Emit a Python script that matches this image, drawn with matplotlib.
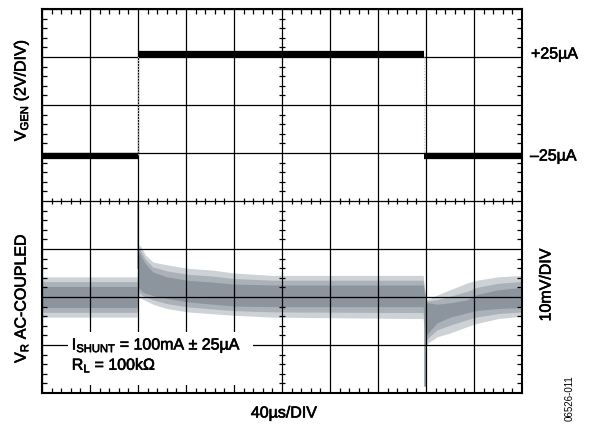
import matplotlib.pyplot as plt
import matplotlib.patheffects as pe
import numpy as np
from matplotlib.patches import Rectangle
from matplotlib.ticker import MultipleLocator

plt.rcParams.update({
    "font.family": ["Liberation Sans", "DejaVu Sans"],
    "mathtext.fontset": "custom",
    "mathtext.rm": "Liberation Sans",
    "font.size": 11.5,
})

W, H = 589, 426
CORE, MID, LIGHT = "#8c949d", "#aab1b8", "#cdd2d7"
# slightly heavier than regular, closer to a medium weight
MEDIUM = [pe.withStroke(linewidth=0.45, foreground="black")]

# Screen is 10 x 8 divisions; all traces are in division units
# V_GEN square wave (top half)
gen_t = [0.0, 2.0, 2.0, 7.96, 7.96, 10.0]
gen_div = [4.94, 4.94, 7.06, 7.06, 4.94, 4.94]

# V_R AC-coupled noise envelope (bottom half, baseline at 2 div)
vr_t = [0.0, 1.98, 2.02, 2.08, 2.15, 2.31, 2.6, 3.02, 3.56, 4.0, 4.8,
        7.94, 8.0, 8.04, 8.23, 8.5, 8.85, 9.06, 9.5, 10.0]
vr_light_hi = [2.42, 2.42, 3.10, 3.02, 2.88, 2.73, 2.67, 2.60, 2.56, 2.50, 2.45,
               2.45, 1.95, 1.95, 2.04, 2.15, 2.29, 2.35, 2.42, 2.45]
vr_core_hi = [2.22, 2.22, 2.95, 2.82, 2.70, 2.52, 2.42, 2.35, 2.31, 2.27, 2.25,
              2.25, 1.88, 1.88, 1.85, 1.88, 1.94, 2.05, 2.15, 2.20]
vr_core_lo = [1.78, 1.78, 2.20, 2.12, 2.08, 2.03, 1.97, 1.90, 1.85, 1.81, 1.80,
              1.80, 1.20, 1.25, 1.46, 1.58, 1.67, 1.72, 1.76, 1.78]
vr_light_lo = [1.58, 1.58, 2.00, 1.96, 1.93, 1.85, 1.76, 1.69, 1.65, 1.62, 1.58,
               1.55, 0.95, 1.04, 1.17, 1.25, 1.38, 1.45, 1.55, 1.60]

# edge spikes: (time, from, to)
rise_spike = (2.0, 2.6, 4.0)
fall_spike = (7.98, 1.9, 0.17)

fig = plt.figure(figsize=(W / 100, H / 100), dpi=100)
ax = fig.add_axes([42 / W, 33 / H, 480 / W, 384 / H])
ax.set_xlim(0, 10)
ax.set_ylim(0, 8)

# noise bands
vr_mid_hi = [(a + b) / 2 for a, b in zip(vr_light_hi, vr_core_hi)]
vr_mid_lo = [(a + b) / 2 for a, b in zip(vr_light_lo, vr_core_lo)]
ax.fill_between(vr_t, vr_light_lo, vr_light_hi, color=LIGHT, lw=0, zorder=1)
ax.fill_between(vr_t, vr_mid_lo, vr_mid_hi, color=MID, lw=0, zorder=1.1)
ax.fill_between(vr_t, vr_core_lo, vr_core_hi, color=CORE, lw=0, zorder=1.2)
ax.plot([rise_spike[0]] * 2, rise_spike[1:], color=MID, lw=1.4, zorder=1.3)
ax.plot([fall_spike[0]] * 2, fall_spike[1:], color=CORE, lw=1.8, zorder=1.3)

# generator trace: thick levels, faint edges
ax.plot(gen_t, gen_div, color="#c8c8c8", lw=0.8, ls=":", zorder=2.6)
for i in range(0, len(gen_t), 2):
    ax.plot(gen_t[i:i + 2], gen_div[i:i + 2], color="black", lw=4.5,
            solid_capstyle="butt", zorder=2.7)

# graticule
ax.set_xticks(range(11))
ax.set_yticks(range(9))
ax.xaxis.set_minor_locator(MultipleLocator(0.2))
ax.yaxis.set_minor_locator(MultipleLocator(0.2))
ax.grid(True, which="major", color="black", lw=0.9)
ax.set_axisbelow(False)
ax.tick_params(which="major", length=0, labelbottom=False, labelleft=False)
ax.tick_params(which="minor", direction="in", length=3.8, width=0.9,
               top=True, right=True, bottom=True, left=True)
for sp in ax.spines.values():
    sp.set_linewidth(1.5)

minor = [v for v in np.arange(0.2, 10, 0.2) if abs(v - round(v)) > 0.01]
minor_y = [v for v in np.arange(0.2, 8, 0.2) if abs(v - round(v)) > 0.01]
ax.plot(minor, [4] * len(minor), ls="", marker="|", ms=4, mew=0.9, color="black", zorder=2.6)
ax.plot([5] * len(minor_y), minor_y, ls="", marker="_", ms=4.5, mew=0.9, color="black", zorder=2.6)

# condition label, blanking the graticule behind it
ax.add_patch(Rectangle((0.54, 0.17), 3.86, 1.1, facecolor="white", edgecolor="none", zorder=2.8))
ax.text(0.62, 1.0, r"I$_{\rm SHUNT}$ = 100mA ± 25µA", va="center", zorder=4, path_effects=MEDIUM)
ax.text(0.62, 0.58, r"R$_{\rm L}$ = 100kΩ", va="center", zorder=4, path_effects=MEDIUM)

def px(x, y):
    return x / W, 1 - y / H

labels = [
    ((21, 90), r"V$_{\rm GEN}$ (2V/DIV)", dict(rotation=90, ha="center")),
    ((21, 298), r"V$_{\rm R}$ AC-COUPLED", dict(rotation=90, ha="center")),
    ((531, 54), "+25µA", dict(ha="left")),
    ((530, 156), "–25µA", dict(ha="left")),
    ((546, 285), "10mV/DIV", dict(rotation=90, ha="center")),
    ((284, 413), "40µs/DIV", dict(ha="center")),
]
for (x, y), s, kw in labels:
    fig.text(*px(x, y), s, va="center", path_effects=MEDIUM, **kw)
fig.text(*px(570, 398), "06526-011", rotation=90, ha="center", va="center", fontsize=7)

fig.savefig("out.png", dpi=100, facecolor="white")
